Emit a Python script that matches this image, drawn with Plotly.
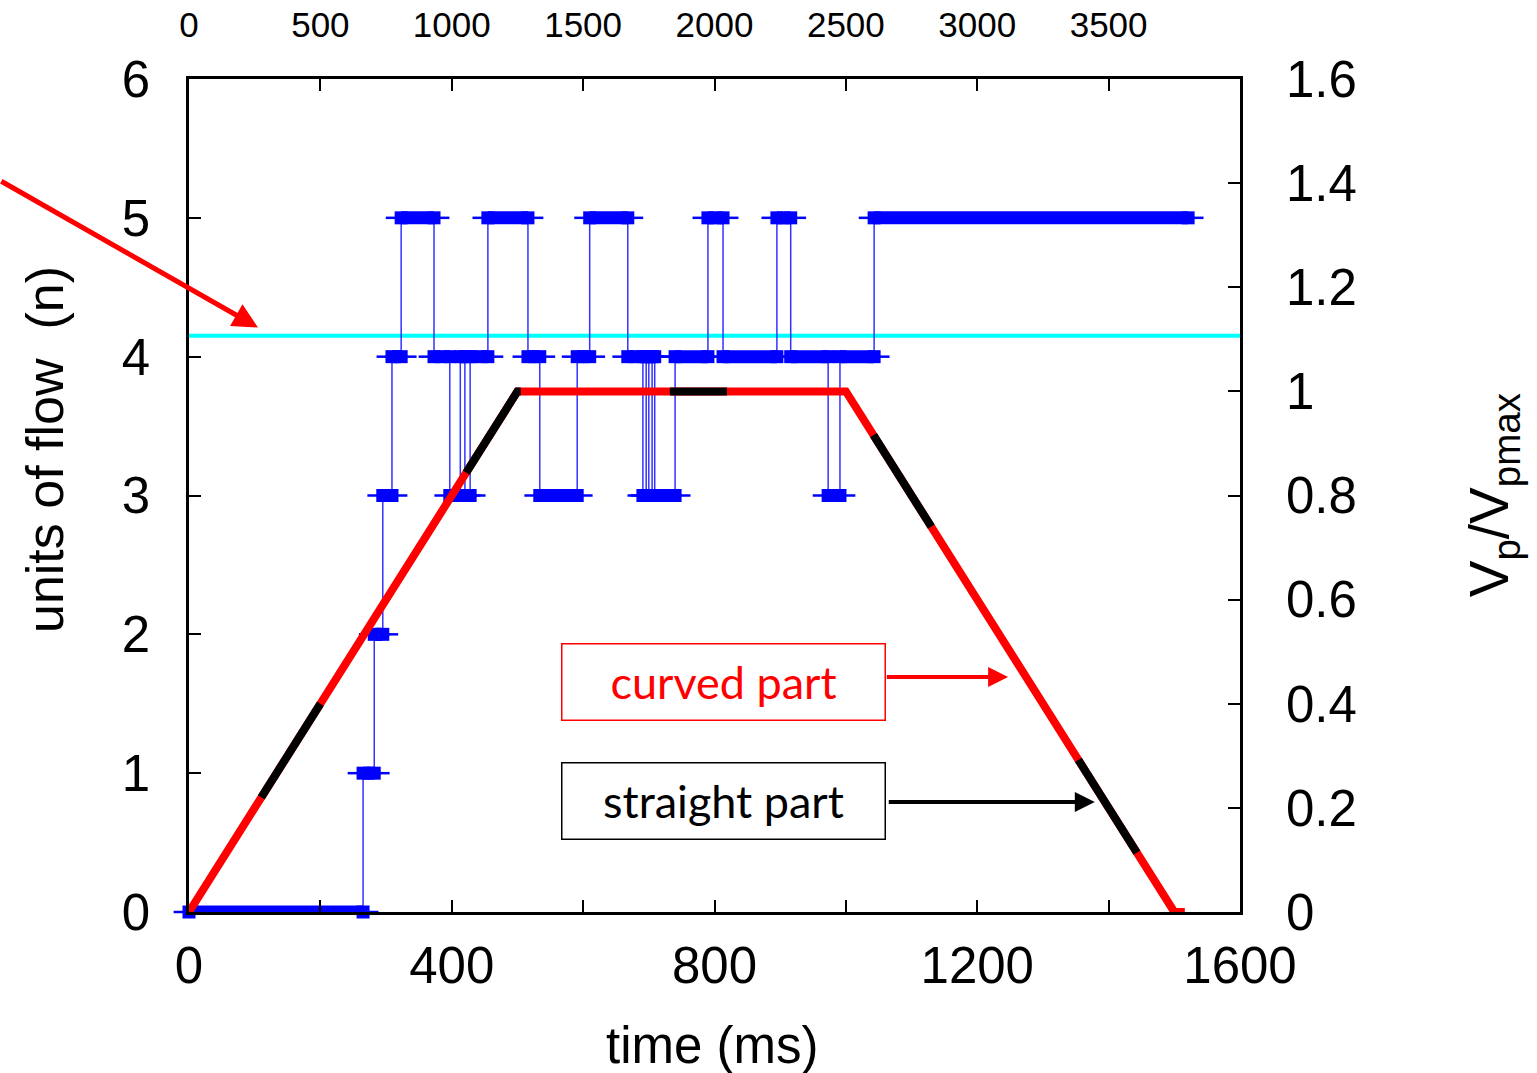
import plotly.graph_objects as go

# ---------------- data ----------------
# blue step series: units of flow n(t); each value holds until the next time
step_time_ms = [0, 265, 282, 295, 309, 323, 373, 397, 413, 420, 428, 455, 516, 534,
                591, 610, 668, 691, 696, 700, 705, 709, 740, 790, 813, 895, 916,
                973, 991, 1043, 1521]
step_units = [0, 1, 2, 3, 4, 5, 4, 3, 4, 3, 4, 5, 4, 3,
              4, 5, 4, 3, 4, 3, 4, 3, 4, 5, 4, 5, 4,
              3, 4, 5, 5]

# velocity profile Vp/Vpmax (right axis), trapezoid
profile_time_ms = [0, 500, 1000, 1500, 1516]
profile_vratio = [0, 1.0, 1.0, 0, 0]

# straight (black) portions of the profile
straight_times = [[110, 200], [422, 500, 505], [732, 819], [1042, 1130], [1354, 1443]]
straight_vratio = [[0.22, 0.40], [0.844, 1.0, 1.0], [1.0, 1.0], [0.916, 0.74], [0.292, 0.114]]

# threshold (cyan) level on the units axis
threshold_units = 4.15

# axis ticks
x_ticks = [0, 200, 400, 600, 800, 1000, 1200, 1400, 1600]
x_ticktext = ["0", "", "400", "", "800", "", "1200", "", "1600"]
x2_ticks = [0, 500, 1000, 1500, 2000, 2500, 3000, 3500]
y_ticks = [0, 1, 2, 3, 4, 5, 6]
y2_ticks = [0, 0.2, 0.4, 0.6, 0.8, 1.0, 1.2, 1.4, 1.6]
y2_ticktext = ["0", "0.2", "0.4", "0.6", "0.8", "1", "1.2", "1.4", "1.6"]

FONT = "Liberation Sans, Arial, sans-serif"
BLUE = "#0000FF"

fig = go.Figure()

# cyan threshold line
fig.add_trace(go.Scatter(x=[0, 1600], y=[threshold_units, threshold_units], mode="lines",
                         line=dict(color="#00FFFF", width=4), xaxis="x", yaxis="y",
                         showlegend=False, hoverinfo="skip"))

# blue step (thin connecting line)
fig.add_trace(go.Scatter(x=step_time_ms, y=step_units, mode="lines", line_shape="hv",
                         line=dict(color="rgba(0,0,255,0.8)", width=1.5),
                         xaxis="x", yaxis="y", showlegend=False))

# dense marker bands (runs of samples)
bx, by = [], []
for i in range(len(step_time_ms) - 1):
    bx += [step_time_ms[i], step_time_ms[i + 1], None]
    by += [step_units[i], step_units[i], None]
fig.add_trace(go.Scatter(x=bx, y=by, mode="lines", line=dict(color=BLUE, width=13),
                         xaxis="x", yaxis="y", showlegend=False, hoverinfo="skip"))

# plus markers at run ends
mx, my = [], []
for i in range(len(step_time_ms) - 1):
    mx += [step_time_ms[i], step_time_ms[i + 1]]
    my += [step_units[i], step_units[i]]
fig.add_trace(go.Scatter(x=mx, y=my, mode="markers", cliponaxis=False,
                         marker=dict(symbol="line-ew", size=22, line=dict(color=BLUE, width=2.5)),
                         xaxis="x", yaxis="y", showlegend=False, hoverinfo="skip"))
fig.add_trace(go.Scatter(x=mx, y=my, mode="markers", cliponaxis=False,
                         marker=dict(symbol="square", size=13, color=BLUE, line=dict(width=0)),
                         xaxis="x", yaxis="y", showlegend=False, hoverinfo="skip"))

# velocity profile (red = curved)
fig.add_trace(go.Scatter(x=profile_time_ms, y=profile_vratio, mode="lines",
                         line=dict(color="#FF0000", width=8),
                         xaxis="x", yaxis="y2", showlegend=False))
# straight parts (black)
for t, v in zip(straight_times, straight_vratio):
    fig.add_trace(go.Scatter(x=t, y=v, mode="lines", line=dict(color="#000000", width=8),
                             xaxis="x", yaxis="y2", showlegend=False))

tickfont = dict(family=FONT, size=51, color="black")
axis_common = dict(showgrid=False, zeroline=False, ticks="inside", ticklen=12, tickwidth=1.5,
                   tickcolor="black", automargin=False)
frame = dict(linecolor="black", linewidth=2.5)

fig.update_layout(
    width=1537, height=1073,
    margin=dict(l=189, r=297, t=79, b=161, autoexpand=False),
    paper_bgcolor="white", plot_bgcolor="white",
    xaxis=dict(range=[0, 1600], tickvals=x_ticks, ticktext=x_ticktext, showline=True,
               mirror=True, tickfont=tickfont, ticklabelstandoff=7, **axis_common, **frame),
    xaxis2=dict(range=[0, 4000], tickvals=x2_ticks, overlaying="x", side="top",
                showline=False, tickfont=dict(family=FONT, size=35, color="black"),
                ticklabelstandoff=34, **axis_common),
    yaxis=dict(range=[0, 6], tickvals=y_ticks, showline=True, mirror=True,
               tickfont=tickfont, ticklabelstandoff=26, **axis_common, **frame),
    yaxis2=dict(range=[0, 1.6], tickvals=y2_ticks, ticktext=y2_ticktext, overlaying="y",
                side="right", showline=False, tickfont=tickfont, ticklabelstandoff=45,
                **axis_common),
)

# invisible trace to activate xaxis2
fig.add_trace(go.Scatter(x=[0], y=[0], xaxis="x2", yaxis="y", mode="markers",
                         marker=dict(opacity=0), showlegend=False, hoverinfo="skip"))

annotations = [
    # axis titles
    dict(text="time (ms)", xref="paper", yref="paper", x=0.4976, y=-0.16, showarrow=False,
         font=dict(family=FONT, size=51, color="black"), xanchor="center", yanchor="middle"),
    dict(text="units of flow  (n)", xref="paper", yref="paper", x=-0.137, y=0.5546,
         showarrow=False, textangle=-90, font=dict(family=FONT, size=52, color="black"),
         xanchor="center", yanchor="middle"),
    dict(text="V<sub>p</sub>/V<sub>pmax</sub>", xref="paper", yref="paper", x=1.241, y=0.5006,
         showarrow=False, textangle=-90, font=dict(family=FONT, size=55, color="black"),
         xanchor="center", yanchor="middle"),
    # big red arrow from outside
    dict(text="", x=105, y=4.21, xref="x", yref="y", ax=-288, ay=5.27, axref="x", ayref="y",
         showarrow=True, arrowhead=2, arrowsize=1, arrowwidth=5, arrowcolor="#FF0000", standoff=0),
    # boxes
    dict(text="curved part", x=813, y=1.66, xref="x", yref="y", showarrow=False,
         font=dict(family="Lato, sans-serif", size=45, color="#FF0000"),
         bordercolor="#FF0000", borderwidth=1.5, borderpad=0, bgcolor="white",
         width=322, height=75, align="center", valign="middle"),
    dict(text="straight part", x=813, y=0.796, xref="x", yref="y", showarrow=False,
         font=dict(family="Lato, sans-serif", size=45, color="black"),
         bordercolor="black", borderwidth=1.5, borderpad=0, bgcolor="white",
         width=322, height=75, align="center", valign="middle"),
    # box arrows
    dict(text="", x=1247, y=1.693, xref="x", yref="y", ax=1060, ay=1.693, axref="x", ayref="y",
         showarrow=True, arrowhead=2, arrowsize=1, arrowwidth=4, arrowcolor="#FF0000", standoff=0),
    dict(text="", x=1379, y=0.792, xref="x", yref="y", ax=1063, ay=0.792, axref="x", ayref="y",
         showarrow=True, arrowhead=2, arrowsize=1, arrowwidth=4, arrowcolor="black", standoff=0),
]
fig.update_layout(annotations=annotations)

fig.write_html("out.html")
